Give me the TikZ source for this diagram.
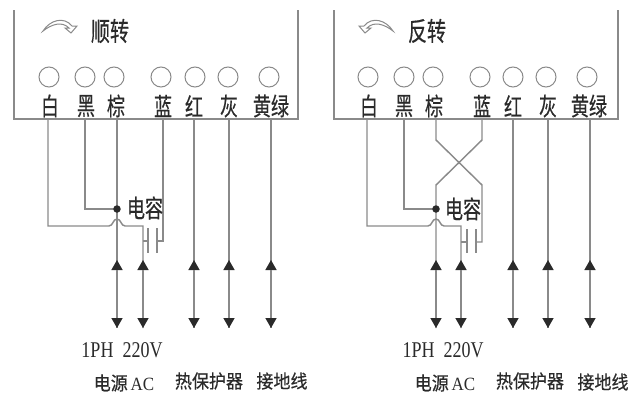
\documentclass[tikz,border=0pt]{standalone}
\usepackage{fontspec}
\setmainfont{Liberation Serif}
\newfontfamily\cjk[FakeBold=0.5]{Noto Sans CJK SC}
\usetikzlibrary{arrows.meta}
\definecolor{wirec}{HTML}{8A8A8A}
\definecolor{inkc}{HTML}{2A2A2A}
\newcommand{\tall}[1]{\scalebox{1}[1.38]{#1}}
\newcommand{\low}[1]{\scalebox{1}[1.1]{#1}}
\newcommand{\latinstretch}[1]{\scalebox{1}[1.25]{#1}}
\newcommand{\turnicon}{(43,31) .. controls (50,20) and (64,16) .. (72,26) -- (77,26) -- (71,33) -- (65,28) -- (69,28) .. controls (62,21) and (52,24) .. (43,31) -- cycle}
\tikzset{
  wire/.style={draw=wirec,line width=1.45pt},
  frameline/.style={draw=wirec,line width=1.5pt},
  terminal/.style={circle,draw=wirec,line width=1pt,minimum size=20pt,inner sep=0pt},
  lab/.style={inner sep=0pt,text=inkc,font=\cjk\fontsize{18}{18}\selectfont},
  smalllab/.style={inner sep=0pt,text=inkc,font=\cjk\fontsize{17}{17}\selectfont},
  latinlab/.style={inner sep=0pt,text=inkc,font=\fontsize{18}{18}\selectfont},
  headtip/.style={-{Triangle[width=11pt,length=10pt,color=inkc]}},
  joint/.style={circle,fill=inkc,minimum size=7.5pt,inner sep=0pt},
  icon/.style={draw=wirec,line width=1pt,fill=white}
}
\newcommand{\terminals}[2]{% prefix, list x/name/label/x circle/x label
  \foreach \wx/\wn/\wl/\cx/\lx in {#2} {
    \node[terminal] (#1c\wn) at (\cx,77) {};
    \node[lab] (#1l\wn) at (\lx,106) {\tall{\wl}};
    \coordinate (#1t\wn) at (\wx,119);
    \coordinate (#1u\wn) at (\wx,270);
    \coordinate (#1v\wn) at (\wx,260);
    \coordinate (#1b\wn) at (\wx,328);
  }
}
\begin{document}
\begin{tikzpicture}[x=1pt,y=-1pt]
\useasboundingbox (0,0) rectangle (632,399);
% ===== left panel =====
\coordinate (Ltl) at (14,10); \coordinate (Lbl) at (14,119);
\coordinate (Lbr) at (298,119); \coordinate (Ltr) at (298,10);
\draw[frameline] (Ltl) -- (Lbl) -- (Lbr) -- (Ltr);
\draw[icon] \turnicon;
\node[lab,font=\cjk\fontsize{19}{19}\selectfont] (Ltitle) at (110,31) {\tall{顺转}};
\terminals{L}{48/a/白/49/50, 85/b/黑/85/86, 117/c/棕/114/116, 163/d/蓝/161/163, 194/e/红/195/194, 229/f/灰/228/229, 271/g/黄绿/269/271}
\coordinate (Lw1) at (48,226); \coordinate (Lh1) at (109,226); \coordinate (Lh2) at (125,226);
\coordinate (Lk1) at (143,226); \coordinate (Lkm) at (143,241); \coordinate (Lku) at (143,270);
\coordinate (Lkv) at (143,260); \coordinate (Lkb) at (143,328);
\coordinate (Lb1) at (85,209); \coordinate (Ljn) at (117,209);
\coordinate (Lp1t) at (148,228); \coordinate (Lp1b) at (148,253); \coordinate (Lp1m) at (148,241);
\coordinate (Lp2t) at (157,228); \coordinate (Lp2b) at (157,253); \coordinate (Lp2m) at (157,241);
\coordinate (Lbd) at (163,241);
\draw[wire] (Lta) -- (Lw1) -- (Lh1) .. controls (113,226) and (113,219) .. (117,219) .. controls (121,219) and (121,226) .. (Lh2) -- (Lk1) -- (Lkb);
\draw[wire] (Ltb) -- (Lb1) -- (Ljn);
\draw[wire] (Ltc) -- (Lbc);
\draw[wire] (Ltd) -- (Lbd) -- (Lp2m);
\draw[wire] (Lkm) -- (Lp1m);
\draw[wire] (Lp1t) -- (Lp1b);
\draw[wire] (Lp2t) -- (Lp2b);
\foreach \n in {e,f,g} \draw[wire] (Lt\n) -- (Lb\n);
\foreach \n in {c,e,f,g} {
  \draw[wire,headtip] (Lu\n) -- (Lv\n);
  \draw[wire,headtip] (Lu\n) -- (Lb\n);
}
\draw[wire,headtip] (Lku) -- (Lkv);
\draw[wire,headtip] (Lku) -- (Lkb);
\node[joint] (Ldot) at (Ljn) {};
\node[lab] (Lcap) at (145,208) {\tall{电容}};
\node[latinlab] (Lph) at (122,350) {\latinstretch{1PH\ \ 220V}};
\node[smalllab] (Lac) at (124,383) {\low{电源\,\rmfamily AC}};
\node[smalllab] (Lth) at (209,381) {\low{热保护器}};
\node[smalllab] (Lgr) at (282,381) {\low{接地线}};
% ===== right panel =====
\coordinate (Rtl) at (334,10); \coordinate (Rbl) at (334,119);
\coordinate (Rbr) at (618,119); \coordinate (Rtr) at (618,10);
\draw[frameline] (Rtl) -- (Rbl) -- (Rbr) -- (Rtr);
\begin{scope}[xshift=436pt,xscale=-1]
\draw[icon] \turnicon;
\end{scope}
\node[lab,font=\cjk\fontsize{19}{19}\selectfont] (Rtitle) at (427,31) {\tall{反转}};
\terminals{R}{367/a/白/368/369, 404/b/黑/404/404, 436/c/棕/433/434, 482/d/蓝/480/482, 513/e/红/513/513, 548/f/灰/546/548, 590/g/黄绿/587/589}
\coordinate (Rw1) at (367,226); \coordinate (Rh1) at (428,226); \coordinate (Rh2) at (444,226);
\coordinate (Rk1) at (461,226); \coordinate (Rkm) at (461,242); \coordinate (Rku) at (461,270);
\coordinate (Rkv) at (461,260); \coordinate (Rkb) at (461,328);
\coordinate (Rb1) at (404,209); \coordinate (Rjn) at (436,209);
\coordinate (Rp1t) at (467,229); \coordinate (Rp1b) at (467,253); \coordinate (Rp1m) at (467,242);
\coordinate (Rp2t) at (476,229); \coordinate (Rp2b) at (476,253); \coordinate (Rp2m) at (476,242);
\coordinate (Rbd) at (482,242);
\coordinate (Rxc1) at (436,140); \coordinate (Rxc2) at (482,185);
\coordinate (Rxd1) at (482,140); \coordinate (Rxd2) at (436,185);
\draw[wire] (Rta) -- (Rw1) -- (Rh1) .. controls (432,226) and (432,219) .. (436,219) .. controls (440,219) and (440,226) .. (Rh2) -- (Rk1) -- (Rkb);
\draw[wire] (Rtb) -- (Rb1) -- (Rjn);
\draw[wire] (Rtc) -- (Rxc1) -- (Rxc2) -- (Rbd) -- (Rp2m);
\draw[wire] (Rtd) -- (Rxd1) -- (Rxd2) -- (Rbc);
\draw[wire] (Rkm) -- (Rp1m);
\draw[wire] (Rp1t) -- (Rp1b);
\draw[wire] (Rp2t) -- (Rp2b);
\foreach \n in {e,f,g} \draw[wire] (Rt\n) -- (Rb\n);
\foreach \n in {c,e,f,g} {
  \draw[wire,headtip] (Ru\n) -- (Rv\n);
  \draw[wire,headtip] (Ru\n) -- (Rb\n);
}
\draw[wire,headtip] (Rku) -- (Rkv);
\draw[wire,headtip] (Rku) -- (Rkb);
\node[joint] (Rdot) at (Rjn) {};
\node[lab] (Rcap) at (463,209) {\tall{电容}};
\node[latinlab] (Rph) at (443,350) {\latinstretch{1PH\ \ 220V}};
\node[smalllab] (Rac) at (445,383) {\low{电源\,\rmfamily AC}};
\node[smalllab] (Rth) at (530,381) {\low{热保护器}};
\node[smalllab] (Rgr) at (603,382) {\low{接地线}};
\end{tikzpicture}
\end{document}
